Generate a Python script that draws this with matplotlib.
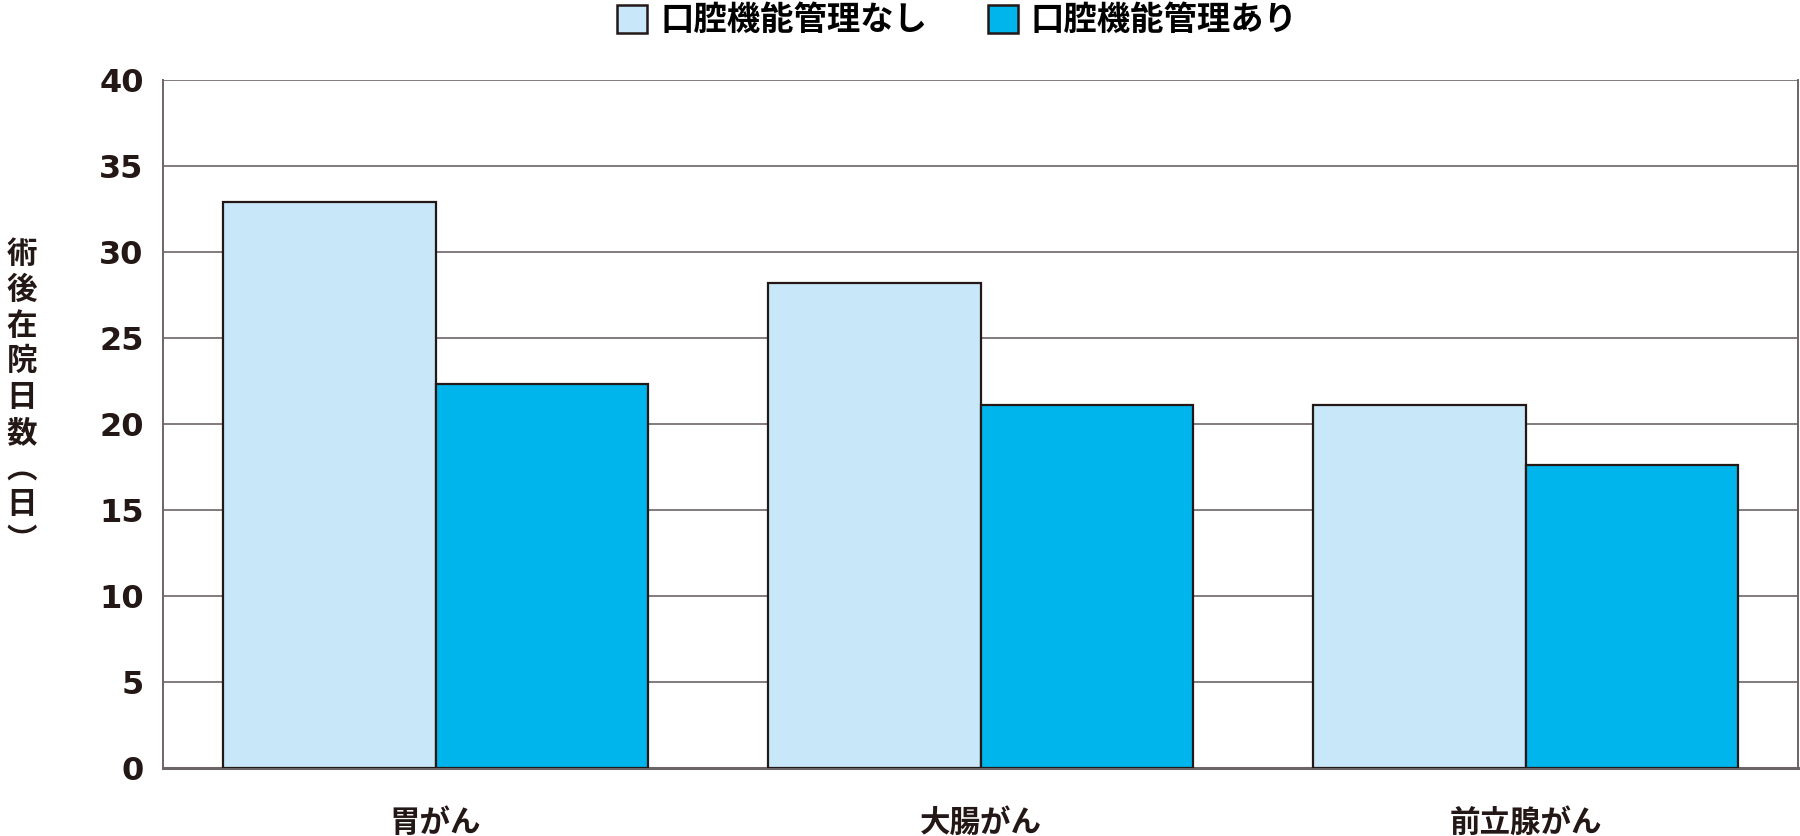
import numpy as np
import matplotlib
matplotlib.use("Agg")
import matplotlib.pyplot as plt
from matplotlib.patches import Patch

plt.rcParams['font.family'] = ['Noto Sans CJK JP', 'DejaVu Sans']

# data
categories = ['胃がん', '大腸がん', '前立腺がん']
series_names = ['口腔機能管理なし', '口腔機能管理あり']
without_care = [32.9, 28.2, 21.1]
with_care = [22.3, 21.1, 17.6]
y_ticks = [0, 5, 10, 15, 20, 25, 30, 35, 40]
y_label = '術後在院日数︵日︶'

light_blue = '#c8e7f8'
cyan = '#00b4ec'
edge = '#231815'
grid_gray = '#6d6466'

fig = plt.figure(figsize=(18, 8.36), dpi=100)
ax = fig.add_axes([0.0906, 0.0813, 0.9083, 0.823])

x = np.arange(len(categories))
w = 0.39
ax.bar(x - w / 2, without_care, w, color=light_blue, edgecolor=edge, linewidth=1.6, zorder=3)
ax.bar(x + w / 2, with_care, w, color=cyan, edgecolor=edge, linewidth=1.6, zorder=3)

ax.set_xlim(-0.5, len(categories) - 0.5)
ax.set_ylim(0, 40)
ax.set_yticks(y_ticks)
ax.set_yticklabels([str(t) for t in y_ticks], fontfamily='DejaVu Sans',
                   fontweight='bold', fontsize=23, color=edge)
ax.set_xticks(x)
ax.set_xticklabels(categories, fontsize=22, fontweight='bold', color=edge)
ax.tick_params(axis='y', length=0, pad=14)
ax.tick_params(axis='x', length=0, pad=28)

ax.yaxis.grid(True, color=grid_gray, linewidth=1.2, zorder=0)
ax.set_axisbelow(True)
for side in ['left', 'right', 'bottom']:
    ax.spines[side].set_color(grid_gray)
    ax.spines[side].set_linewidth(1.4)
ax.spines['bottom'].set_linewidth(2.2)
ax.spines['top'].set_visible(False)

fig.text(0.012, 0.525, '\n'.join(y_label), fontsize=22, fontweight='bold',
         color=edge, ha='center', va='center', linespacing=1.15)

handles = [Patch(facecolor=light_blue, edgecolor=edge, linewidth=1.8),
           Patch(facecolor=cyan, edgecolor=edge, linewidth=1.8)]
fig.legend(handles, series_names, loc='center', bbox_to_anchor=(0.532, 0.975),
           ncol=2, frameon=False, handlelength=0.9, handleheight=0.9,
           handletextpad=0.4, columnspacing=1.8,
           prop={'weight': 'bold', 'size': 24})

fig.savefig('out.png', dpi=100)
